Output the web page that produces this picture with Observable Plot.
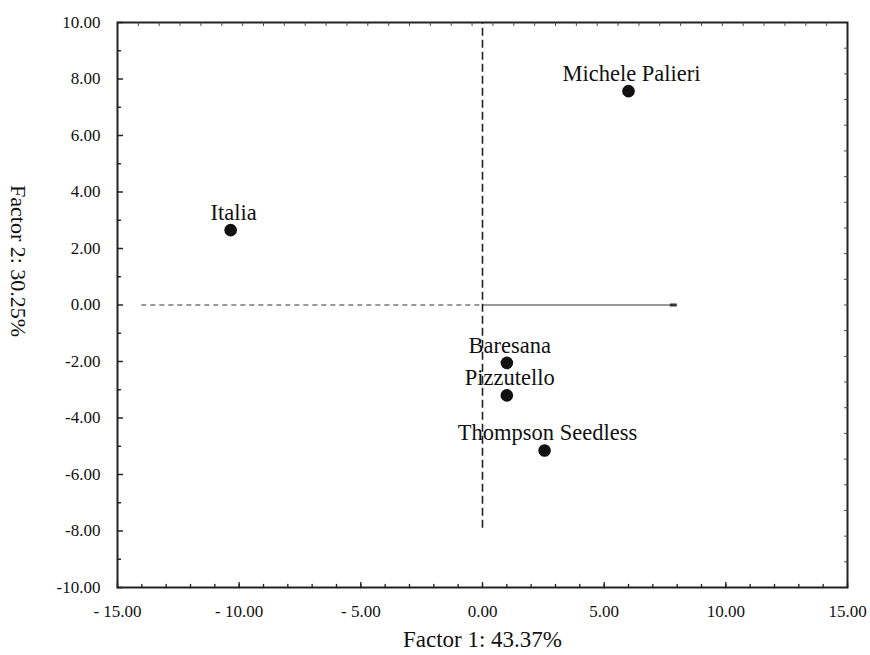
<!DOCTYPE html>
<html>
<head>
<meta charset="utf-8">
<script src="https://cdn.jsdelivr.net/npm/d3@7"></script>
<script src="https://cdn.jsdelivr.net/npm/@observablehq/plot@0.6"></script>
<style>
  html, body { margin: 0; padding: 0; background: #fff; }
  svg { display: block; }
  svg, svg text { font-family: "Liberation Serif", "Times New Roman", serif !important; }
</style>
</head>
<body>
<div id="chart"></div>
<script>
// Data
const cultivars = ["Michele Palieri", "Italia", "Baresana", "Pizzutello", "Thompson Seedless"];
const factor1 = [6.0, -10.35, 1.0, 1.0, 2.55];
const factor2 = [7.57, 2.65, -2.05, -3.2, -5.15];

const xTicks = [-15, -10, -5, 0, 5, 10, 15];
const yTicks = [-10, -8, -6, -4, -2, 0, 2, 4, 6, 8, 10];
const xMinor = d3.range(-15, 15.01, 1);
const yMinor = d3.range(-9, 10, 2);
const topMinor = d3.range(1, 35).map(k => -15 + 30 * k / 35);
const rightMinor = d3.range(1, 22).map(k => -10 + 20 * k / 22);

// reference axes of the factor plane
const hDashed = [{x1: -14, x2: 0}];
const hSolid = [{x1: 0, x2: 8}];
const vDashed = [{y1: -7.9, y2: 10}];

const xTitle = "Factor 1: 43.37%";
const yTitle = "Factor 2: 30.25%";

const points = cultivars.map((name, i) => ({name, x: factor1[i], y: factor2[i]}));

const lineShape = {draw(ctx, l) { ctx.moveTo(0, 0); ctx.lineTo(0, -l); }};
const fmtX = d => d < 0 ? "- " + Math.abs(d).toFixed(2) : d.toFixed(2);
const fmtY = d => (d < 0 ? "-" : "") + Math.abs(d).toFixed(2);

const font = "Liberation Serif";

const chart = Plot.plot({
  width: 870,
  height: 655,
  marginLeft: 117,
  marginRight: 23,
  marginTop: 22,
  marginBottom: 68,
  style: {fontFamily: font, background: "#fff", color: "#111"},
  x: {domain: [-15, 15]},
  y: {domain: [-10, 10]},
  marks: [
    // reference lines
    Plot.ruleY(hDashed, {y: 0, x1: "x1", x2: "x2", stroke: "#333", strokeWidth: 1, strokeDasharray: "5,4"}),
    Plot.ruleY(hSolid, {y: 0, x1: "x1", x2: "x2", stroke: "#333", strokeWidth: 1}),
    Plot.ruleY(hSolid, {y: 0, x1: d => d.x2 - 0.28, x2: "x2", stroke: "#333", strokeWidth: 3}),
    Plot.ruleX(vDashed, {x: 0, y1: "y1", y2: "y2", stroke: "#222", strokeWidth: 1.6, strokeDasharray: "8,4"}),
    // frame
    Plot.frame({stroke: "#222", strokeWidth: 2}),
    // ticks (inward)
    Plot.vector(yTicks, {y: d => d, frameAnchor: "left", length: 5, rotate: 90, anchor: "start", shape: lineShape, stroke: "#222", strokeWidth: 1.3}),
    Plot.vector(yMinor, {y: d => d, frameAnchor: "left", length: 3, rotate: 90, anchor: "start", shape: lineShape, stroke: "#222", strokeWidth: 1.3}),
    Plot.vector(xTicks, {x: d => d, frameAnchor: "bottom", length: 5, rotate: 0, anchor: "start", shape: lineShape, stroke: "#222", strokeWidth: 1.3}),
    Plot.vector(xMinor, {x: d => d, frameAnchor: "bottom", length: 3, rotate: 0, anchor: "start", shape: lineShape, stroke: "#222", strokeWidth: 1.3}),
    Plot.vector(topMinor, {x: d => d, frameAnchor: "top", length: 3, rotate: 180, anchor: "start", shape: lineShape, stroke: "#444", strokeWidth: 1}),
    Plot.vector(rightMinor, {y: d => d, frameAnchor: "right", length: 3, rotate: 270, anchor: "start", shape: lineShape, stroke: "#444", strokeWidth: 1}),
    // axes labels
    Plot.axisX(xTicks, {anchor: "bottom", tickSize: 0, tickPadding: 17, tickFormat: fmtX, fontSize: 17, fontFamily: font, label: null, fill: "#111"}),
    Plot.axisY(yTicks, {anchor: "left", tickSize: 0, tickPadding: 17, tickFormat: fmtY, fontSize: 17, fontFamily: font, label: null, fill: "#111"}),
    // axis titles
    Plot.text([xTitle], {text: d => d, frameAnchor: "bottom", dy: 52, fontSize: 23, fontFamily: font, fill: "#111", lineAnchor: "middle"}),
    Plot.text([yTitle], {text: d => d, frameAnchor: "left", dx: -99, dy: -120, rotate: 90, fontSize: 22, fontFamily: font, fill: "#111", lineAnchor: "middle"}),
    // points
    Plot.dot(points, {x: "x", y: "y", r: 6.3, fill: "#111"}),
    Plot.text(points, {x: "x", y: "y", text: "name", dx: 3, dy: -10, lineAnchor: "bottom", fontSize: 22.5, fontFamily: font, fill: "#111"})
  ]
});

document.getElementById("chart").appendChild(chart);
</script>
</body>
</html>
